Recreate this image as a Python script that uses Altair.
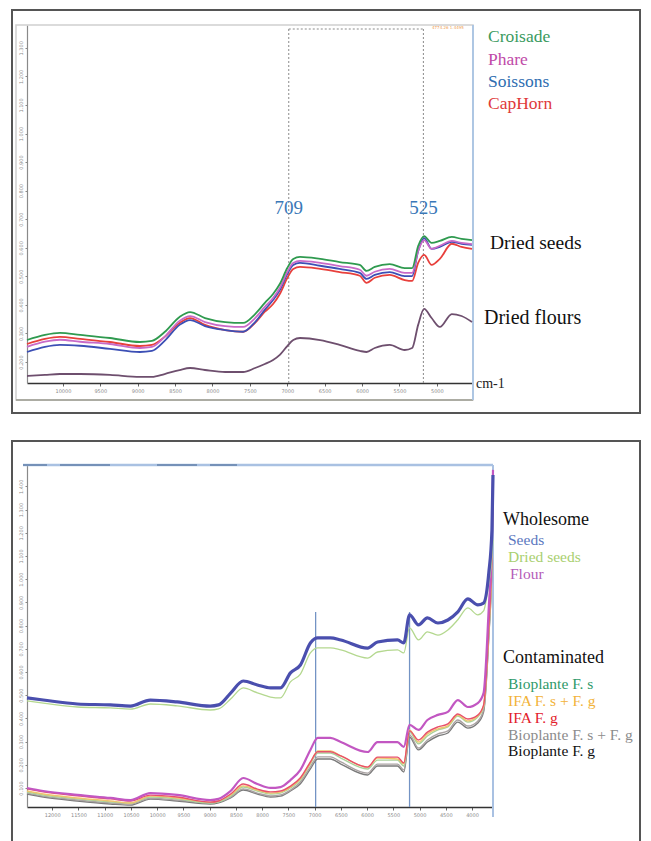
import altair as alt
import pandas as pd

# ---------------- upper panel: four wheat varieties, seeds and flours ----------------
x_top = [10480, 10240, 10040, 9770, 9370, 8970, 8810, 8640, 8440, 8300, 8100, 7830,
         7590, 7430, 7300, 7190, 7100, 7000, 6920, 6830, 6560, 6300, 6030, 5940,
         5830, 5630, 5430, 5330, 5250, 5170, 5070, 4960, 4800, 4670, 4530]
croisade = [.277, .295, .302, .295, .284, .270, .274, .305, .358, .375, .354, .340,
            .337, .368, .407, .438, .473, .529, .561, .568, .561, .550, .540, .519,
            .533, .543, .529, .529, .606, .641, .617, .624, .638, .631, .627]
phare = [.253, .271, .278, .271, .263, .249, .253, .288, .344, .361, .340, .326,
         .323, .354, .393, .424, .459, .515, .547, .554, .547, .536, .523, .502,
         .516, .526, .512, .512, .589, .627, .596, .607, .624, .617, .613]
soissons = [.235, .253, .260, .257, .246, .235, .239, .274, .330, .347, .326, .312,
            .306, .340, .383, .417, .452, .508, .540, .547, .537, .526, .512, .491,
            .505, .515, .501, .501, .589, .634, .596, .603, .621, .614, .610]
caphorn = [.263, .281, .288, .281, .270, .256, .260, .288, .337, .354, .330, .312,
           .306, .337, .376, .403, .438, .494, .526, .533, .526, .515, .502, .477,
           .495, .505, .487, .484, .547, .575, .540, .561, .614, .603, .596]
dried_flours = [.151, .155, .158, .158, .155, .148, .148, .158, .172, .179, .172, .165,
                .165, .179, .193, .207, .225, .256, .277, .284, .277, .260, .239, .235,
                .249, .260, .242, .249, .330, .386, .354, .323, .368, .361, .340]

top_x_ticks = [5000, 5500, 6000, 6500, 7000, 7500, 8000, 8500, 9000, 9500, 10000]
top_y_ticks = [0.2, 0.3, 0.4, 0.5, 0.6, 0.7, 0.8, 0.9, 1.0, 1.1, 1.2, 1.3]
marker_pos = [6980, 5180]
marker_text = ["709", "525"]

# ---------------- lower panel: wholesome vs contaminated samples ----------------
x_bot = [12480, 12170, 11520, 10890, 10510, 10130, 9620, 8990, 8830, 8600, 8360, 8090,
         7840, 7650, 7460, 7270, 7080, 6940, 6700, 6500, 5990, 5800, 5420, 5300,
         5190, 5020, 4850, 4650, 4460, 4270, 4080, 3890, 3780, 3680, 3620, 3600]
seeds = [.488, .479, .462, .458, .453, .479, .471, .453, .458, .509, .561, .544,
         .531, .531, .596, .630, .725, .747, .747, .738, .703, .729, .738, .725,
         .846, .803, .833, .811, .824, .859, .915, .889, .897, 1.027, 1.212, 1.449]
dried_seeds = [.475, .466, .449, .445, .440, .462, .454, .436, .441, .483, .531, .510,
               .492, .488, .557, .591, .682, .704, .704, .695, .660, .686, .695, .682,
               .790, .738, .773, .759, .781, .825, .876, .846, .863, .984, 1.096, 1.169]
flour = [.100, .087, .070, .057, .048, .078, .070, .048, .053, .087, .143, .117,
         .100, .104, .134, .178, .264, .316, .316, .298, .255, .298, .298, .277,
         .372, .350, .393, .415, .428, .479, .449, .466, .509, .880, 1.169, 1.471]
ifa_fg = [.096, .083, .066, .053, .044, .069, .061, .039, .044, .074, .117, .095,
          .083, .087, .108, .144, .212, .256, .256, .238, .190, .233, .233, .208,
          .346, .307, .341, .363, .376, .419, .397, .414, .457, .794, 1.126, 1.462]
ifa_fs_fg = [.087, .074, .057, .044, .035, .065, .057, .039, .044, .070, .109, .091,
             .078, .082, .104, .139, .208, .260, .260, .238, .190, .229, .225, .204,
             .350, .298, .333, .355, .368, .414, .389, .410, .453, .785, 1.109, 1.454]
bio_fs = [.083, .070, .053, .040, .035, .061, .053, .035, .040, .065, .104, .087,
          .074, .078, .100, .135, .204, .251, .251, .229, .182, .220, .220, .195,
          .342, .290, .324, .350, .363, .410, .384, .406, .449, .777, 1.100, 1.445]
bio_fs_fg = [.078, .065, .048, .035, .031, .056, .048, .035, .040, .061, .096, .078,
             .066, .070, .091, .126, .191, .234, .234, .212, .164, .203, .203, .178,
             .329, .272, .307, .333, .346, .393, .367, .388, .436, .759, 1.083, 1.437]
bio_fg = [.074, .061, .044, .031, .026, .052, .044, .031, .036, .057, .091, .074,
          .061, .065, .087, .118, .182, .225, .225, .203, .156, .195, .195, .169,
          .320, .264, .298, .324, .337, .384, .358, .380, .427, .751, 1.074, 1.428]

bot_x_ticks = [4000, 4500, 5000, 5500, 6000, 6500, 7000, 7500, 8000, 8500, 9000,
               9500, 10000, 10500, 11000, 11500, 12000]
bot_y_ticks = [0.1, 0.2, 0.3, 0.4, 0.5, 0.6, 0.7, 0.8, 0.9, 1.0, 1.1, 1.2, 1.3, 1.4]
bot_marker_pos = [6980, 5190]

SERIF = "'Liberation Serif', 'Times New Roman', Times, serif"
one = pd.DataFrame({"k": [0]})


def axis_x(ticks):
    return alt.Axis(values=ticks, format="d", labelFontSize=5, labelColor="#8a8a8a",
                    tickSize=3, tickColor="#666", domainColor="#333", domainWidth=1.3,
                    labelPadding=2, grid=False, title=None, labelFont="DejaVu Sans")


def axis_y(ticks):
    return alt.Axis(values=ticks, format=".3f", labelFontSize=5, labelColor="#8a8a8a",
                    labelAngle=270, tickSize=2, tickColor="#888", domainColor="#8a8a8a",
                    domainWidth=1.2, labelPadding=2, grid=False, title=None,
                    labelFont="DejaVu Sans")


def spectrum(xs, ys, color, width, xscale, yscale, xticks, yticks, opacity=1.0):
    df = pd.DataFrame({"wn": xs, "absorb": ys})
    return alt.Chart(df).mark_line(color=color, strokeWidth=width, opacity=opacity,
                                   interpolate="monotone").encode(
        x=alt.X("wn:Q", scale=xscale, axis=axis_x(xticks)),
        y=alt.Y("absorb:Q", scale=yscale, axis=axis_y(yticks)),
    )


def label(text, x, y, color, size, font=SERIF, weight="normal"):
    return alt.Chart(one).mark_text(align="left", baseline="middle", font=font,
                                    fontSize=size, color=color, fontWeight=weight).encode(
        x=alt.value(x), y=alt.value(y), text=alt.value(text))


def hline(x1, x2, y, color, width, dash=None):
    kw = {"color": color, "strokeWidth": width}
    if dash:
        kw["strokeDash"] = dash
    return alt.Chart(one).mark_rule(**kw).encode(x=alt.value(x1), x2=alt.value(x2),
                                                 y=alt.value(y))


def vline(x, y1, y2, color, width):
    return alt.Chart(one).mark_rule(color=color, strokeWidth=width).encode(
        x=alt.value(x), y=alt.value(y1), y2=alt.value(y2))


def box(x1, x2, y1, y2, color, width):
    return alt.Chart(one).mark_rect(fillOpacity=0, stroke=color, strokeWidth=width).encode(
        x=alt.value(x1), x2=alt.value(x2), y=alt.value(y1), y2=alt.value(y2))


# ---------------- upper panel ----------------
TW, TH = 445, 358
xs_top = alt.Scale(domain=[4530, 10480], reverse=True, nice=False, zero=False)
ys_top = alt.Scale(domain=[0.1265, 1.380], nice=False, zero=False)

top_layers = [
    box(-15, 613, -15, 388, "#555555", 2),
    box(-11, 446, 0, 375, "#cfcfcf", 1.5),
    hline(-11, 446, 375, "#9d9d90", 1.5),
    vline(446, 0, 375, "#a9c4e4", 1.8),
]
marker_df = pd.DataFrame({"wn": marker_pos, "txt": marker_text})
top_layers.append(
    alt.Chart(marker_df).mark_rule(color="#8a8a8a", strokeWidth=1, strokeDash=[2, 2]).encode(
        x=alt.X("wn:Q", scale=xs_top, axis=axis_x(top_x_ticks)),
        y=alt.value(4), y2=alt.value(TH))
)
top_layers.append(
    alt.Chart(pd.DataFrame({"a": [marker_pos[0]], "b": [marker_pos[1]]}))
    .mark_rule(color="#8a8a8a", strokeWidth=1, strokeDash=[2, 2]).encode(
        x=alt.X("a:Q", scale=xs_top, axis=axis_x(top_x_ticks)), x2="b:Q", y=alt.value(4))
)
for ys, col in [(dried_flours, "#6e4f6e"), (caphorn, "#e8403c"), (soissons, "#3c4fb5"),
                (phare, "#c86ac8"), (croisade, "#2f9a4f")]:
    top_layers.append(spectrum(x_top, ys, col, 1.8, xs_top, ys_top, top_x_ticks, top_y_ticks))
top_layers.append(
    alt.Chart(marker_df).mark_text(font=SERIF, fontSize=19, color="#3a78b8",
                                   baseline="middle", align="center").encode(
        x=alt.X("wn:Q", scale=xs_top, axis=axis_x(top_x_ticks)),
        y=alt.value(183), text="txt:N")
)
top_layers += [
    label("4774.26  1.4495", 405, 3, "#f0a050", 4, font="DejaVu Sans"),
    label("Croisade", 461, 12, "#3a9a5e", 17.5),
    label("Phare", 461, 35, "#c04aa8", 17.5),
    label("Soissons", 461, 57, "#2e6db0", 17.5),
    label("CapHorn", 461, 79, "#e03a3a", 17.5),
    label("Dried seeds", 463, 218, "#111111", 19.5),
    label("Dried flours", 457, 293, "#111111", 20),
    label("cm-1", 449, 359, "#222222", 14),
]
top = alt.layer(*top_layers).properties(width=TW, height=TH)

# ---------------- lower panel ----------------
BW, BH = 466, 342
xs_bot = alt.Scale(domain=[3600, 12480], reverse=True, nice=False, zero=False)
ys_bot = alt.Scale(domain=[0.018, 1.492], nice=False, zero=False)

bot_layers = [
    box(-15, 613, -24, 380, "#555555", 2),
    hline(-4, 466, 0, "#a9c1e2", 2.5),
    hline(-4, 20, 0, "#7591b8", 2),
    hline(33, 83, 0, "#7591b8", 2),
    hline(130, 170, 0, "#7591b8", 2),
    hline(183, 210, 0, "#7591b8", 2),
    vline(466, 0, 352, "#a9c1e2", 2),
    alt.Chart(pd.DataFrame({"wn": bot_marker_pos})).mark_rule(
        color="#7393c4", strokeWidth=1.3).encode(
        x=alt.X("wn:Q", scale=xs_bot, axis=axis_x(bot_x_ticks)),
        y=alt.value(147), y2=alt.value(BH)),
]
for ys, col, w in [(bio_fg, "#7a7a7a", 1.4), (bio_fs_fg, "#aaa3a3", 1.4),
                   (bio_fs, "#a9d29a", 1.4), (ifa_fs_fg, "#f0c46e", 1.4),
                   (ifa_fg, "#e8506a", 1.4), (flour, "#c257c2", 2.2),
                   (dried_seeds, "#b4d88f", 1.3), (seeds, "#4a4fae", 3.2)]:
    bot_layers.append(spectrum(x_bot, ys, col, w, xs_bot, ys_bot, bot_x_ticks, bot_y_ticks))
bot_layers += [
    label("Wholesome", 476, 55, "#111111", 18),
    label("Seeds", 481, 75, "#5b78c0", 15.5),
    label("Dried seeds", 481, 92, "#a9cf6f", 15.5),
    label("Flour", 483, 109, "#b45bb8", 15.5),
    label("Contaminated", 476, 193, "#111111", 18),
    label("Bioplante F. s", 481, 219, "#2f9a6a", 15.5),
    label("IFA F. s + F. g", 481, 236, "#f2b33a", 15.5),
    label("IFA F. g", 481, 253, "#e3202b", 15.5),
    label("Bioplante F. s + F. g", 481, 270, "#8c8c8c", 15.5),
    label("Bioplante F. g", 481, 286, "#111111", 15.5),
]
bottom = alt.layer(*bot_layers).properties(width=BW, height=BH)

chart = (
    alt.vconcat(top, bottom, spacing=26)
    .resolve_scale(x="independent", y="independent")
    .properties(padding={"left": 11, "top": 9, "right": 5, "bottom": 0},
                background="white")
    .configure_view(stroke=None)
)

chart.save("out.html", embed_options={"renderer": "svg", "actions": False})
